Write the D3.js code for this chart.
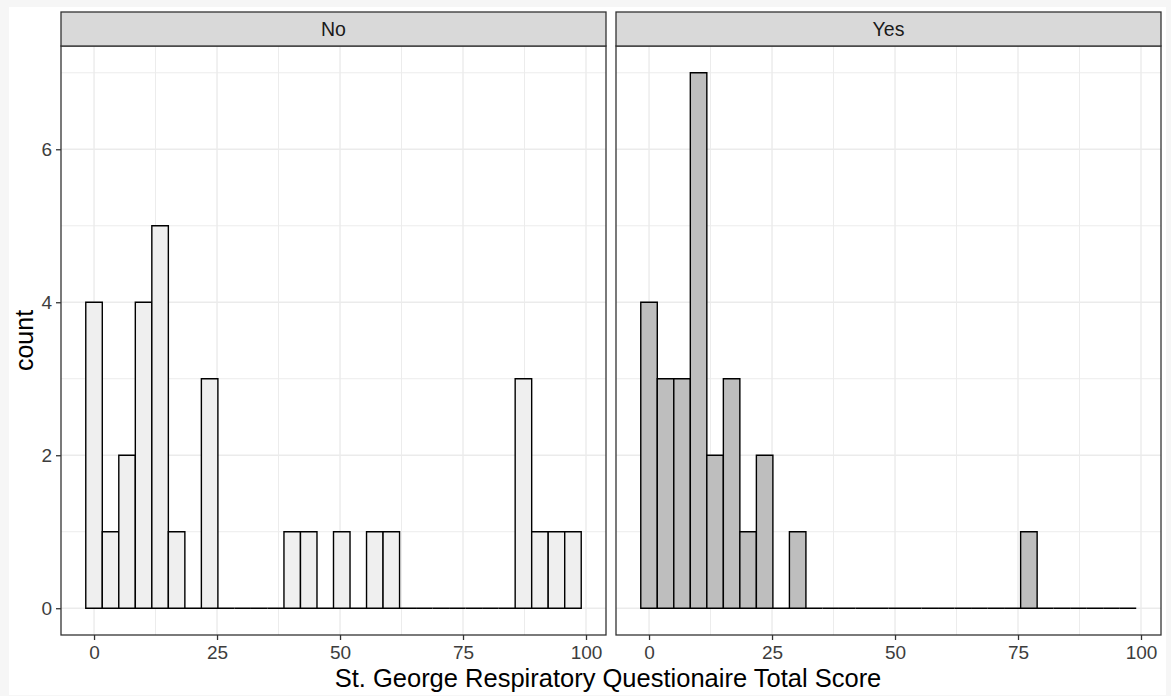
<!DOCTYPE html>
<html>
<head>
<meta charset="utf-8">
<script src="https://cdn.jsdelivr.net/npm/d3@7"></script>
<style>
  body { margin: 0; background: #f6f6f6; }
  svg { display: block; font-family: "Liberation Sans", Arial, sans-serif; }
</style>
</head>
<body>
<div id="vis"></div>
<script>
const WIDTH = 1171;
const HEIGHT = 696;

// datos del histograma (30 bins)
const facetas = ["No", "Yes"];
const binStart = -1.68;
const binWidth = 3.357;
const countsNo = [4, 1, 2, 4, 5, 1, 0, 3, 0, 0, 0, 0, 1, 1, 0, 1, 0, 1, 1, 0, 0, 0, 0, 0, 0, 0, 3, 1, 1, 1];
const countsYes = [4, 3, 3, 7, 2, 3, 1, 2, 0, 1, 0, 0, 0, 0, 0, 0, 0, 0, 0, 0, 0, 0, 0, 1, 0, 0, 0, 0, 0, 0];
const xTicks = [0, 25, 50, 75, 100];
const xMinor = [12.5, 37.5, 62.5, 87.5];
const yTicks = [0, 2, 4, 6];
const yMinor = [1, 3, 5, 7];
const fillColor = { "No": "#efefef", "Yes": "#bebebe" };

const SVG = d3.select("#vis").append("svg")
  .attr("width", WIDTH).attr("height", HEIGHT);

// fondo blanco con borde gris claro
SVG.append("rect").attr("x", 9).attr("y", 7).attr("width", 1157).attr("height", 688).attr("fill", "white");

const paneles = [
  { nombre: facetas[0], x0: 61, x1: 606, counts: countsNo },
  { nombre: facetas[1], x0: 616, x1: 1161, counts: countsYes }
];
const stripTop = 12, panelTop = 46, panelBottom = 635;

const xDomain = [binStart - 0.05 * 30 * binWidth, binStart + 30 * binWidth + 0.05 * 30 * binWidth];
const escalaY = d3.scaleLinear().domain([-0.35, 7.35]).range([panelBottom, panelTop]);

paneles.forEach((p) => {
  const escalaX = d3.scaleLinear().domain(xDomain).range([p.x0, p.x1]);
  const g = SVG.append("g");

  // grilla menor
  g.selectAll(".minx").data(xMinor).join("line")
    .attr("x1", d => escalaX(d)).attr("x2", d => escalaX(d))
    .attr("y1", panelTop).attr("y2", panelBottom)
    .attr("stroke", "#ececec").attr("stroke-width", 1);
  g.selectAll(".miny").data(yMinor).join("line")
    .attr("y1", d => escalaY(d)).attr("y2", d => escalaY(d))
    .attr("x1", p.x0).attr("x2", p.x1)
    .attr("stroke", "#ececec").attr("stroke-width", 1);
  // grilla mayor
  g.selectAll(".majx").data(xTicks).join("line")
    .attr("x1", d => escalaX(d)).attr("x2", d => escalaX(d))
    .attr("y1", panelTop).attr("y2", panelBottom)
    .attr("stroke", "#ebebeb").attr("stroke-width", 1.4);
  g.selectAll(".majy").data(yTicks).join("line")
    .attr("y1", d => escalaY(d)).attr("y2", d => escalaY(d))
    .attr("x1", p.x0).attr("x2", p.x1)
    .attr("stroke", "#ebebeb").attr("stroke-width", 1.4);

  // barras (path para que las de altura 0 se vean como linea)
  g.selectAll(".barra").data(p.counts).join("path")
    .attr("d", (d, i) => {
      const a = escalaX(binStart + i * binWidth);
      const b = escalaX(binStart + (i + 1) * binWidth);
      const y0 = escalaY(0), y1 = escalaY(d);
      return `M${a},${y0}L${a},${y1}L${b},${y1}L${b},${y0}Z`;
    })
    .attr("fill", fillColor[p.nombre])
    .attr("stroke", "black")
    .attr("stroke-width", 1.4)
    .attr("stroke-linejoin", "miter");

  // borde del panel
  g.append("rect")
    .attr("x", p.x0).attr("y", panelTop)
    .attr("width", p.x1 - p.x0).attr("height", panelBottom - panelTop)
    .attr("fill", "none").attr("stroke", "#333").attr("stroke-width", 1.3);

  // strip
  g.append("rect")
    .attr("x", p.x0).attr("y", stripTop)
    .attr("width", p.x1 - p.x0).attr("height", panelTop - stripTop)
    .attr("fill", "#d9d9d9").attr("stroke", "#333").attr("stroke-width", 1.3);
  g.append("text")
    .attr("x", (p.x0 + p.x1) / 2).attr("y", 36)
    .attr("text-anchor", "middle")
    .attr("font-size", 19.5).attr("fill", "#1a1a1a")
    .text(p.nombre);

  // eje x
  const ejeX = d3.axisBottom(escalaX).tickValues(xTicks).tickSize(5).tickPadding(6);
  const gx = g.append("g").attr("transform", `translate(0,${panelBottom})`).call(ejeX);
  gx.select(".domain").remove();
  gx.selectAll(".tick line").attr("stroke", "#333").attr("stroke-width", 1.3);
  gx.selectAll(".tick text").attr("font-size", 19).attr("fill", "#3d3d3d")
    .attr("font-family", "Liberation Sans, Arial, sans-serif");
});

// eje y (solo panel izquierdo)
const ejeY = d3.axisLeft(escalaY).tickValues(yTicks).tickSize(5).tickPadding(4);
const gy = SVG.append("g").attr("transform", `translate(${paneles[0].x0},0)`).call(ejeY);
gy.select(".domain").remove();
gy.selectAll(".tick line").attr("stroke", "#333").attr("stroke-width", 1.3);
gy.selectAll(".tick text").attr("font-size", 19).attr("fill", "#3d3d3d")
  .attr("font-family", "Liberation Sans, Arial, sans-serif");

// titulos
SVG.append("text")
  .attr("x", 608).attr("y", 687)
  .attr("text-anchor", "middle").attr("font-size", 25.5).attr("fill", "black")
  .text("St. George Respiratory Questionaire Total Score");
SVG.append("text")
  .attr("transform", `translate(33,${(panelTop + panelBottom) / 2}) rotate(-90)`)
  .attr("text-anchor", "middle").attr("font-size", 25).attr("fill", "black")
  .text("count");
</script>
</body>
</html>
